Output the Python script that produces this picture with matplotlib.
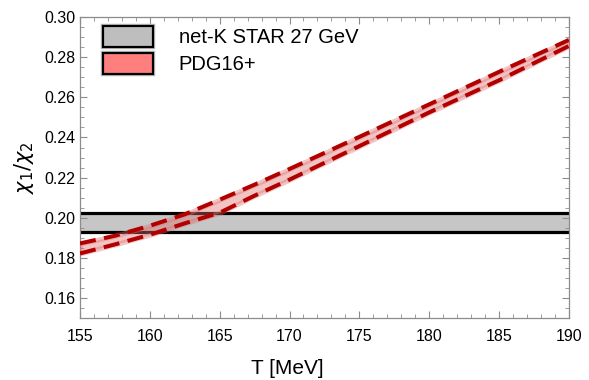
import matplotlib
matplotlib.use("Agg")
import matplotlib.pyplot as plt
import matplotlib.patheffects as pe
from matplotlib.patches import Patch
from matplotlib.ticker import MultipleLocator, FormatStrFormatter

plt.rcParams['font.family'] = ['Liberation Sans', 'DejaVu Sans']
plt.rcParams['mathtext.fontset'] = 'dejavusans'

# Data
T = [155, 157.5, 160, 162.5, 165, 167.5, 170, 175, 180, 185, 190]
pdg_upper = [0.1872, 0.1910, 0.1960, 0.2017, 0.2090, 0.2165, 0.2243, 0.2403, 0.2565, 0.2727, 0.2886]
pdg_lower = [0.1822, 0.1867, 0.1915, 0.1972, 0.2025, 0.2110, 0.2190, 0.2357, 0.2525, 0.2685, 0.2856]
star_low = 0.1930
star_high = 0.2025
T_range = [155, 190]

fig = plt.figure(figsize=(5.89, 3.80), dpi=100)
ax = fig.add_axes([0.1358, 0.163, 0.830, 0.792])

# STAR band
ax.fill_between(T_range, [star_low]*2, [star_high]*2, color='#C6C6C6', lw=0, zorder=1)
ax.plot(T_range, [star_low]*2, color='black', lw=2.3, zorder=2, solid_capstyle='butt')
ax.plot(T_range, [star_high]*2, color='black', lw=2.3, zorder=2, solid_capstyle='butt')

# PDG16+ band
ax.fill_between(T, pdg_lower, pdg_upper, facecolor='#E07070', edgecolor='#E07070',
                alpha=0.4, lw=3.5, zorder=3)
for arr in (pdg_upper, pdg_lower):
    ax.plot(T, arr, color='#B20000', lw=2.9, dashes=(4.0, 2.1), zorder=4)

ax.set_xlim(155, 190)
ax.set_ylim(0.15, 0.30)
ax.xaxis.set_major_locator(MultipleLocator(5))
ax.xaxis.set_minor_locator(MultipleLocator(1))
ax.set_yticks([0.16, 0.18, 0.20, 0.22, 0.24, 0.26, 0.28, 0.30])
ax.yaxis.set_minor_locator(MultipleLocator(0.005))
ax.yaxis.set_major_formatter(FormatStrFormatter('%.2f'))

for s in ax.spines.values():
    s.set_color('#8C8C8C')
    s.set_linewidth(0.9)
ax.tick_params(which='both', direction='in', top=True, right=True, colors='#8C8C8C',
               labelcolor='black', labelsize=11.5)
ax.tick_params(which='major', length=5, width=0.8)
ax.tick_params(which='minor', length=3, width=0.6)
ax.tick_params(axis='x', pad=8)

ax.set_xlabel('T [MeV]', fontsize=15)
ax.xaxis.set_label_coords(0.425, -0.135)
ax.set_ylabel(r'$\chi_1/\chi_2$', fontsize=15, labelpad=6)

halo = [pe.Stroke(linewidth=3.2, foreground='#BBBBBB'), pe.Normal()]
handles = [Patch(facecolor='#BEBEBE', edgecolor='black', lw=1.6, label='net-K STAR 27 GeV',
                 path_effects=halo),
           Patch(facecolor='#FF7F7F', edgecolor='black', lw=1.6, label='PDG16+',
                 path_effects=halo)]
leg = ax.legend(handles=handles, loc='upper left', frameon=False, fontsize=14.5,
                handlelength=2.5, handleheight=1.2, handletextpad=1.25,
                borderaxespad=0.0, borderpad=0.0, labelspacing=0.3,
                bbox_to_anchor=(23/489, 1 - 9/301))

fig.savefig('out.png', dpi=100)
